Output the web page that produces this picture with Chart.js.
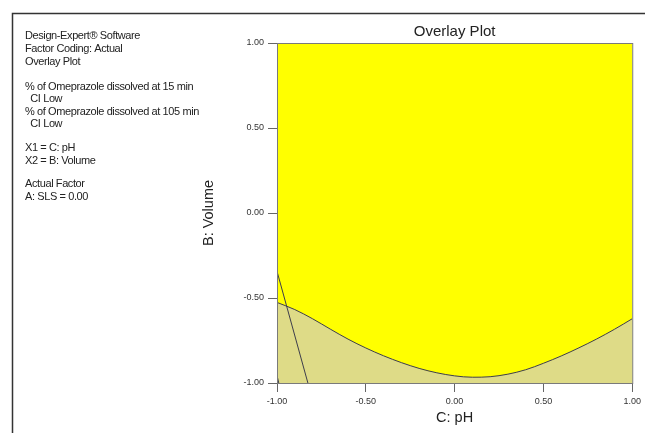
<!DOCTYPE html>
<html lang="en">
<head>
<meta charset="UTF-8">
<title>Overlay Plot</title>
<script src="https://cdn.jsdelivr.net/npm/chart.js"></script>
<style>
  html, body { margin: 0; padding: 0; background: #fff; }
  #wrap { width: 645px; height: 433px; position: relative; }
</style>
</head>
<body>
<div id="wrap"><canvas id="overlay"></canvas></div>
<script>
  // C: pH on x, B: Volume on y (coded -1..1)
  const phValues = [-1.0, -0.9, -0.8, -0.7, -0.6, -0.5, -0.4, -0.3, -0.2, -0.1, 0.0,
                    0.1, 0.2, 0.3, 0.4, 0.5, 0.6, 0.7, 0.8, 0.9, 1.0];
  // boundary of the "% dissolved at 105 min" CI low contour
  const volumeBoundary = [-0.526, -0.568, -0.622, -0.683, -0.742, -0.794, -0.840, -0.880, -0.914, -0.940, -0.958,
                          -0.966, -0.963, -0.948, -0.922, -0.884, -0.841, -0.793, -0.741, -0.684, -0.622];
  // "% dissolved at 15 min" CI low contour (straight segment)
  const line15Ph = [-1.0, -0.826];
  const line15Volume = [-0.343, -1.0];
  // tiny contour in the lower left corner
  const cornerPh = [-1.0, -0.99];
  const cornerVolume = [-0.955, -1.0];

  const tickValues = [-1.0, -0.5, 0.0, 0.5, 1.0];

  const infoLines = [
    ['Design-Expert® Software', 36],
    ['Factor Coding: Actual', 49],
    ['Overlay Plot', 62],
    ['% of Omeprazole dissolved at 15 min', 87],
    ['  CI Low', 99],
    ['% of Omeprazole dissolved at 105 min', 112],
    ['  CI Low', 124],
    ['X1 = C: pH', 148],
    ['X2 = B: Volume', 161],
    ['Actual Factor', 184],
    ['A: SLS = 0.00', 197]
  ];

  const toPoints = (xs, ys) => xs.map((x, i) => ({ x: x, y: ys[i] }));

  const lineColor = '#3d3d4c';
  const font = 'Liberation Sans, Arial, sans-serif';

  const decor = {
    id: 'decor',
    beforeDatasetsDraw(chart) {
      const { ctx, chartArea: a } = chart;
      ctx.save();
      ctx.fillStyle = '#ffff00';
      ctx.fillRect(a.left, a.top, a.right - a.left, a.bottom - a.top);
      ctx.restore();
    },
    afterDraw(chart) {
      const { ctx, chartArea: a } = chart;
      ctx.save();
      // plot frame
      ctx.strokeStyle = '#7a7a7a';
      ctx.lineWidth = 1;
      ctx.strokeRect(a.left + 0.5, a.top + 0.5, a.right - a.left, a.bottom - a.top);

      // outer frame (top and left)
      ctx.strokeStyle = '#333';
      ctx.lineWidth = 1.5;
      ctx.beginPath();
      ctx.moveTo(12.5, 433);
      ctx.lineTo(12.5, 13.5);
      ctx.lineTo(645, 13.5);
      ctx.stroke();

      ctx.fillStyle = '#222';
      ctx.textBaseline = 'middle';
      // title
      ctx.textAlign = 'center';
      ctx.font = '15px ' + font;
      ctx.fillText('Overlay Plot', (a.left + a.right) / 2, 32);
      // axis titles
      ctx.font = '14.5px ' + font;
      ctx.fillText('C: pH', (a.left + a.right) / 2, 418);
      ctx.save();
      ctx.translate(209, (a.top + a.bottom) / 2);
      ctx.rotate(-Math.PI / 2);
      ctx.fillText('B: Volume', 0, 0);
      ctx.restore();

      // info block
      ctx.textAlign = 'left';
      ctx.font = '11px ' + font;
      ctx.letterSpacing = '-0.4px';
      infoLines.forEach(([t, y]) => ctx.fillText(t, 25, y));
      ctx.restore();
    }
  };

  const axisCommon = {
    type: 'linear',
    min: -1,
    max: 1,
    afterBuildTicks: s => { s.ticks = tickValues.map(v => ({ value: v })); },
    ticks: {
      color: '#333',
      font: { family: font, size: 9 },
      callback: v => v.toFixed(2),
      padding: 4
    },
    grid: { drawOnChartArea: false, drawTicks: true, tickLength: 9, color: '#666' },
    border: { display: true, color: '#7a7a7a' }
  };

  new Chart(document.getElementById('overlay'), {
    type: 'line',
    data: {
      datasets: [{
        data: toPoints(phValues, volumeBoundary),
        borderColor: lineColor,
        borderWidth: 1,
        backgroundColor: '#dedb87',
        fill: 'start',
        pointRadius: 0,
        cubicInterpolationMode: 'monotone',
        order: 2
      }, {
        data: toPoints(line15Ph, line15Volume),
        borderColor: lineColor,
        borderWidth: 1,
        fill: false,
        pointRadius: 0,
        order: 1
      }, {
        data: toPoints(cornerPh, cornerVolume),
        borderColor: lineColor,
        borderWidth: 1,
        fill: false,
        pointRadius: 0,
        order: 1
      }]
    },
    options: {
      responsive: true,
      maintainAspectRatio: false,
      animation: false,
      layout: { padding: { left: 237, top: 43, right: 12, bottom: 20 } },
      plugins: { legend: { display: false }, tooltip: { enabled: false } },
      scales: {
        x: Object.assign({}, axisCommon, { afterFit: s => { s.height = 30; } }),
        y: Object.assign({}, axisCommon, { afterFit: s => { s.width = 40; } })
      }
    },
    plugins: [decor]
  });
</script>
</body>
</html>
